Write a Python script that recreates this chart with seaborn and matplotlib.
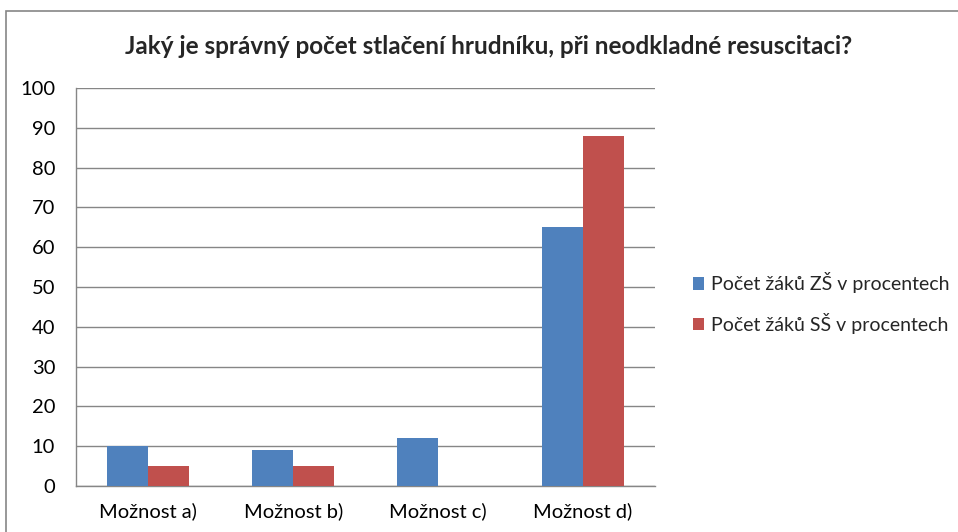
import matplotlib.pyplot as plt
import seaborn as sns
import pandas as pd
from matplotlib.patches import Rectangle

categories = ['Možnost a)', 'Možnost b)', 'Možnost c)', 'Možnost d)']
zs_values = [10, 9, 12, 65]
ss_values = [5, 5, 0, 88]
series_names = ['Počet žáků ZŠ v procentech', 'Počet žáků SŠ v procentech']
colors = ['#4F81BD', '#C0504D']

df = pd.DataFrame({
    'category': categories * 2,
    'value': zs_values + ss_values,
    'series': [series_names[0]] * 4 + [series_names[1]] * 4,
})

sns.set_style('white')
plt.rcParams['font.family'] = ['Lato', 'DejaVu Sans']

fig = plt.figure(figsize=(9.58, 5.32), dpi=100)
ax = fig.add_axes([76 / 958, 1 - 486 / 532, 579 / 958, 398 / 532])

sns.barplot(data=df, x='category', y='value', hue='series', palette=colors,
            width=0.566, saturation=1, linewidth=0, ax=ax, zorder=3)

ax.set_ylim(0, 100)
ax.set_yticks(range(0, 101, 10))
ax.set_xlabel('')
ax.set_ylabel('')
ax.yaxis.grid(True, color='#868686', linewidth=1, zorder=0)
ax.set_axisbelow(True)
for side in ['top', 'right']:
    ax.spines[side].set_visible(False)
for side in ['left', 'bottom']:
    ax.spines[side].set_color('#868686')
    ax.spines[side].set_linewidth(1)
ax.tick_params(axis='y', labelsize=14.5, colors='black', length=0, pad=15)
ax.tick_params(axis='x', labelsize=14.5, colors='black', length=0, pad=12)

ax.legend(loc='center left', bbox_to_anchor=(1.035, 0.46), frameon=False,
          fontsize=14, handlelength=0.6, handleheight=0.6, handletextpad=0.35,
          labelspacing=1.0)

fig.text(489 / 958, 1 - 47 / 532, 'Jaký je správný počet stlačení hrudníku, při neodkladné resuscitaci?',
         ha='center', va='center', fontsize=17.5, fontweight='bold')

fig.patches.append(Rectangle((6 / 958, -0.05), 1.2, 1 - 11 / 532 + 0.05, transform=fig.transFigure,
                             fill=False, edgecolor='#868686', linewidth=1.2))

fig.savefig('out.png', dpi=100)
